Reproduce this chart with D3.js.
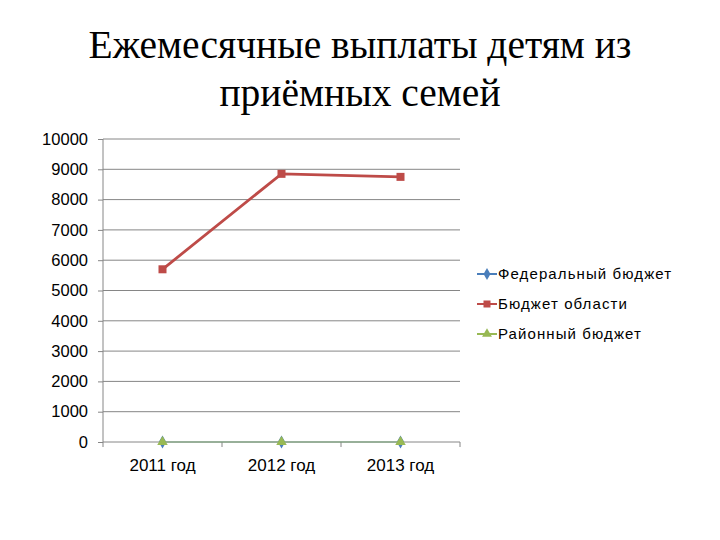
<!DOCTYPE html>
<html lang="ru">
  <head>
    <meta charset="UTF-8" />
    <title>Ежемесячные выплаты детям из приёмных семей</title>
    <script src="https://d3js.org/d3.v7.min.js"></script>
    <style>
      body { margin: 0; background: #fff; }
    </style>
  </head>
  <body>
    <div id="chart"></div>

    <script>
      // data
      const years = ["2011 год", "2012 год", "2013 год"];
      const federal = [0, 0, 0];
      const regional = [5700, 8850, 8750];
      const district = [0, 0, 0];
      const yTicks = [0, 1000, 2000, 3000, 4000, 5000, 6000, 7000, 8000, 9000, 10000];
      const seriesNames = ["Федеральный бюджет", "Бюджет области", "Районный бюджет"];
      const seriesColors = ["#4a7ebb", "#be4b48", "#98b954"];

      const series = [federal, regional, district].map((vals, i) => ({
        name: seriesNames[i],
        color: seriesColors[i],
        values: vals.map((v, j) => ({ year: years[j], value: v })),
      }));

      const W = 720, H = 540;
      const margin = { top: 139, right: 260, bottom: 98, left: 103 };
      const width = W - margin.left - margin.right,
        height = H - margin.top - margin.bottom;

      const svg = d3
        .select("#chart")
        .append("svg")
        .attr("width", W)
        .attr("height", H);

      // title
      const title = svg
        .append("text")
        .attr("text-anchor", "middle")
        .attr("font-family", "Liberation Serif, serif")
        .attr("font-size", 39.5)
        .attr("fill", "#000");
      title.append("tspan").attr("x", 360).attr("y", 58).text("Ежемесячные выплаты детям из");
      title.append("tspan").attr("x", 360).attr("y", 106).text("приёмных семей");

      const g = svg
        .append("g")
        .attr("transform", `translate(${margin.left},${margin.top})`);

      const x = d3.scaleBand().domain(years).range([0, width]);
      const y = d3.scaleLinear().domain([0, 10000]).range([height, 0]);

      // gridlines
      g.append("g")
        .selectAll("line")
        .data(yTicks.filter((d) => d > 0))
        .join("line")
        .attr("x1", 0)
        .attr("x2", width)
        .attr("y1", (d) => y(d))
        .attr("y2", (d) => y(d))
        .attr("stroke", "#868686")
        .attr("stroke-width", 1);

      // y axis
      const yAxis = g
        .append("g")
        .call(
          d3.axisLeft(y).tickValues(yTicks).tickFormat(d3.format("d")).tickSize(5).tickPadding(10)
        );
      yAxis.select(".domain").attr("stroke", "#868686").attr("d", `M0,${height}V0`);
      yAxis.selectAll(".tick line").attr("stroke", "#868686");
      yAxis
        .selectAll("text")
        .attr("font-family", "Liberation Sans, Arial, sans-serif")
        .attr("font-size", 16.5)
        .attr("fill", "#000");

      // x axis: ticks on category boundaries
      const xAxis = g
        .append("g")
        .attr("transform", `translate(0,${height})`)
        .call(d3.axisBottom(x).tickSize(0).tickPadding(17));
      xAxis.select(".domain").attr("stroke", "#868686").attr("d", `M0,0H${width}`);
      xAxis
        .selectAll("text")
        .attr("font-family", "Liberation Sans, Arial, sans-serif")
        .attr("font-size", 17)
        .attr("fill", "#000");
      xAxis
        .selectAll(".bound")
        .data(d3.range(years.length + 1))
        .join("line")
        .attr("class", "bound")
        .attr("x1", (i) => i * x.step())
        .attr("x2", (i) => i * x.step())
        .attr("y1", 0)
        .attr("y2", 5)
        .attr("stroke", "#868686");

      const line = d3
        .line()
        .x((d) => x(d.year) + x.bandwidth() / 2)
        .y((d) => y(d.value));

      function drawMarker(sel, idx, color, size) {
        if (idx === 0) {
          sel.append("path")
            .attr("d", d3.symbol(d3.symbolDiamond, size * 6)())
            .attr("fill", color);
        } else if (idx === 1) {
          sel.append("rect")
            .attr("x", -size / 2)
            .attr("y", -size / 2)
            .attr("width", size)
            .attr("height", size)
            .attr("fill", color);
        } else {
          sel.append("path")
            .attr("d", d3.symbol(d3.symbolTriangle, size * 6)())
            .attr("fill", color);
        }
      }

      series.forEach((s, i) => {
        const flat = d3.max(s.values, (d) => d.value) === 0;
        g.append("path")
          .datum(s.values)
          .attr("fill", "none")
          .attr("stroke", s.color)
          .attr("stroke-width", flat ? 2 : 2.8)
          .attr("stroke-opacity", flat ? 0.35 : 1)
          .attr("d", line);
        g.append("g")
          .selectAll("g")
          .data(s.values)
          .join("g")
          .attr("transform", (d) => `translate(${x(d.year) + x.bandwidth() / 2},${y(d.value)})`)
          .each(function () {
            drawMarker(d3.select(this), i, s.color, 8);
          });
      });

      // legend
      const legend = svg
        .append("g")
        .selectAll("g")
        .data(series)
        .join("g")
        .attr("transform", (d, i) => `translate(477,${274 + i * 30})`);
      legend
        .append("line")
        .attr("x1", 0)
        .attr("x2", 20)
        .attr("stroke", (d) => d.color)
        .attr("stroke-width", 2);
      legend.each(function (d, i) {
        drawMarker(d3.select(this).append("g").attr("transform", "translate(10,0)"), i, d.color, 7);
      });
      legend
        .append("text")
        .attr("x", 21)
        .attr("dy", "0.35em")
        .attr("font-family", "Liberation Sans, Arial, sans-serif")
        .attr("font-size", 15)
        .attr("letter-spacing", 1.1)
        .attr("fill", "#000")
        .text((d) => d.name);
    </script>
  </body>
</html>
